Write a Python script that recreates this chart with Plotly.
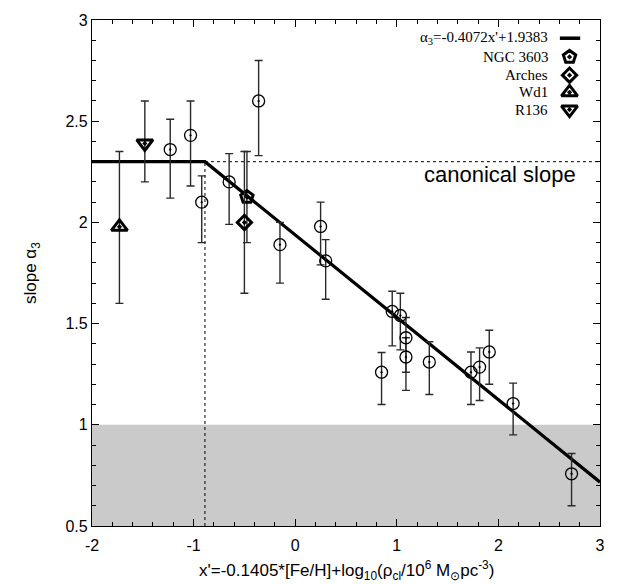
import plotly.graph_objects as go

# Linear fit of the high-mass IMF slope versus x', capped at the canonical value
SLOPE = -0.4072
INTERCEPT = 1.9383
CANONICAL = 2.3
LOW_LIMIT = 1.0          # shaded band below this slope

# Star clusters (open circles): x', alpha_3 and the ends of the error bars
cl_x = [-1.23, -1.03, -0.92, -0.65, -0.36, -0.15, 0.25, 0.30, 0.85, 0.955,
        1.035, 1.09, 1.09, 1.32, 1.73, 1.815, 1.91, 2.145, 2.72]
cl_y = [2.36, 2.43, 2.10, 2.20, 2.60, 1.89, 1.98, 1.81, 1.26, 1.56,
        1.54, 1.43, 1.335, 1.31, 1.26, 1.285, 1.36, 1.105, 0.758]
cl_lo = [2.12, 2.18, 1.90, 1.99, 2.33, 1.70, 1.79, 1.62, 1.10, 1.39,
         1.37, 1.26, 1.17, 1.15, 1.10, 1.12, 1.20, 0.95, 0.60]
cl_hi = [2.51, 2.60, 2.23, 2.34, 2.80, 2.00, 2.10, 1.915, 1.357, 1.66,
         1.65, 1.53, 1.43, 1.41, 1.36, 1.38, 1.467, 1.206, 0.858]

# Named young massive clusters
named = ["NGC 3603", "Arches", "Wd1", "R136"]
named_x = [-0.475, -0.50, -1.73, -1.48]
named_y = [2.125, 2.00, 1.978, 2.39]
named_lo = [1.90, 1.65, 1.60, 2.20]
named_hi = [2.35, 2.35, 2.35, 2.60]

x_range = [-2, 3]
y_range = [0.5, 3]
x_ticks = [-2, -1, 0, 1, 2, 3]
x_ticklabels = ["-2", "-1", "0", "1", "2", "3"]
y_ticks = [0.5, 1, 1.5, 2, 2.5, 3]
y_ticklabels = ["0.5", "1", "1.5", "2", "2.5", "3"]

fit_label = "α<sub>3</sub>=-0.4072x'+1.9383"

# marker styles for the named clusters
named_style = {
    "NGC 3603": dict(symbol="pentagon-open-dot", size=13),
    "Arches": dict(symbol="diamond-open-dot", size=11),
    "Wd1": dict(symbol="triangle-up-open-dot", size=14),
    "R136": dict(symbol="triangle-down-open-dot", size=14),
}

SANS = "Liberation Sans, Arial, sans-serif"
SERIF = "Liberation Serif, Times New Roman, serif"
ERR_COLOR = "#2a2a2a"

fig = go.Figure()

# break point where the fit reaches the canonical slope
x_break = (CANONICAL - INTERCEPT) / SLOPE

# dotted guides: canonical slope level and the break position
fig.add_trace(go.Scatter(
    x=[x_break, x_range[1]], y=[CANONICAL, CANONICAL], mode="lines",
    line=dict(color="black", width=1, dash="dot"), showlegend=False, hoverinfo="skip"))
fig.add_trace(go.Scatter(
    x=[x_break, x_break], y=[y_range[0], CANONICAL], mode="lines",
    line=dict(color="black", width=1, dash="dot"), showlegend=False, hoverinfo="skip"))

# capped linear relation
fit_x = [x_range[0], x_break, x_range[1]]
fit_y = [CANONICAL, CANONICAL, SLOPE * x_range[1] + INTERCEPT]
fig.add_trace(go.Scatter(
    x=fit_x, y=fit_y, mode="lines", line=dict(color="black", width=3.2),
    showlegend=False, hoverinfo="skip"))

# ordinary clusters
fig.add_trace(go.Scatter(
    x=cl_x, y=cl_y, mode="markers",
    marker=dict(symbol="circle-open-dot", size=12, color="black",
                line=dict(color="black", width=1.3)),
    error_y=dict(type="data", symmetric=False,
                 array=[h - v for h, v in zip(cl_hi, cl_y)],
                 arrayminus=[v - l for l, v in zip(cl_lo, cl_y)],
                 color=ERR_COLOR, thickness=1.4, width=4),
    showlegend=False, cliponaxis=False))

# named clusters
for name, x, y, lo, hi in zip(named, named_x, named_y, named_lo, named_hi):
    st = named_style[name]
    fig.add_trace(go.Scatter(
        x=[x], y=[y], mode="markers",
        marker=dict(symbol=st["symbol"], size=st["size"], color="black",
                    line=dict(color="black", width=3)),
        error_y=dict(type="data", symmetric=False, array=[hi - y], arrayminus=[y - lo],
                     color=ERR_COLOR, thickness=1.4, width=4),
        showlegend=False, cliponaxis=False))

# key in the upper right corner (plot-area fractions on an overlay axis)
key_rows = [0.964, 0.927, 0.891, 0.857, 0.823]
key_text_x = 0.901
key_sym_x = 0.940
fig.add_trace(go.Scatter(
    x=[0.921, 0.961], y=[key_rows[0], key_rows[0]], mode="lines",
    line=dict(color="black", width=3.5), xaxis="x2", yaxis="y2",
    showlegend=False, hoverinfo="skip"))
for name, ry in zip(named, key_rows[1:]):
    st = named_style[name]
    fig.add_trace(go.Scatter(
        x=[key_sym_x], y=[ry], mode="markers", xaxis="x2", yaxis="y2",
        marker=dict(symbol=st["symbol"], size=st["size"], color="black",
                    line=dict(color="black", width=3)),
        showlegend=False, hoverinfo="skip"))

annotations = []
for label, ry in zip([fit_label] + named, key_rows):
    annotations.append(dict(
        x=key_text_x, y=ry, xref="paper", yref="paper", text=label,
        showarrow=False, xanchor="right", yanchor="middle",
        font=dict(family=SERIF, size=15, color="black")))

annotations.append(dict(
    x=2.02, y=2.235, xref="x", yref="y", text="canonical slope", showarrow=False,
    xanchor="center", yanchor="middle", font=dict(family=SANS, size=22, color="black")))

annotations.append(dict(
    x=0.5, y=-0.088, xref="paper", yref="paper",
    text="x'=-0.1405*[Fe/H]+log<sub>10</sub>(ρ<sub>cl</sub>/10<sup>6</sup> M<sub>⊙</sub>pc<sup>-3</sup>)",
    showarrow=False, xanchor="center", yanchor="middle",
    font=dict(family=SANS, size=17, color="black")))
annotations.append(dict(
    x=-0.118, y=0.5, xref="paper", yref="paper", text="slope α<sub>3</sub>",
    textangle=-90, showarrow=False, xanchor="center", yanchor="middle",
    font=dict(family=SANS, size=17, color="black")))

axis_common = dict(
    showgrid=False, zeroline=False, showline=True, linecolor="black", linewidth=1.2,
    mirror="allticks", ticks="inside", ticklen=7, tickwidth=1, tickcolor="black",
    tickfont=dict(family=SANS, size=16, color="black"))

fig.update_layout(
    width=617, height=584,
    margin=dict(l=92, r=14, t=14, b=58),
    paper_bgcolor="white", plot_bgcolor="white",
    showlegend=False,
    xaxis=dict(range=x_range, tickvals=x_ticks, ticktext=x_ticklabels,
               ticklabelstandoff=5,
               minor=dict(ticks="inside", dtick=0.2, ticklen=3.5, tickcolor="black", tickwidth=1),
               **axis_common),
    yaxis=dict(range=y_range, tickvals=y_ticks, ticktext=y_ticklabels,
               minor=dict(ticks="inside", dtick=0.1, ticklen=3.5, tickcolor="black", tickwidth=1),
               **axis_common),
    xaxis2=dict(overlaying="x", range=[0, 1], visible=False),
    yaxis2=dict(overlaying="y", range=[0, 1], visible=False),
    shapes=[dict(type="rect", xref="x", yref="y", x0=x_range[0], x1=x_range[1],
                 y0=y_range[0], y1=LOW_LIMIT, fillcolor="#cacaca",
                 line=dict(width=0), layer="below")],
    annotations=annotations,
)

fig.write_html("out.html")
